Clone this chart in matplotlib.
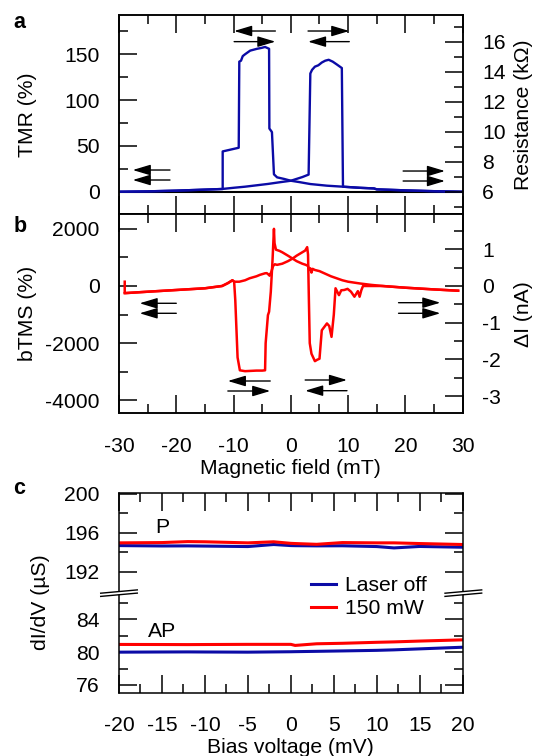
import matplotlib
matplotlib.use("Agg")
import matplotlib.pyplot as plt
from matplotlib.ticker import MultipleLocator, FixedLocator
from matplotlib.lines import Line2D
from matplotlib.patches import Polygon

# ---- panel a: TMR vs magnetic field, two sweep directions ----
field_a_down = [-30, -25, -20, -15, -11.9, -11.9, -9.1, -9.0, -8.7, -8.4, -8.0, -7.1, -5.9,
                -5.1, -4.5, -3.8, -3.75, -3.4, -3.3, -2.95, -2.4, -1.2, 0, 1.5, 3.4, 6.3,
                9.1, 12, 14.5, 15, 20, 25, 30]
tmr_a_down = [0, 0.4, 1.2, 2.3, 3.0, 44, 48, 142, 143, 148, 150, 154, 156,
              157, 158, 156, 69, 66, 65, 19, 15.7, 14, 12, 10.5, 8.4, 6.6,
              5.5, 4.3, 3.6, 2.6, 1.5, 0.6, 0]
field_a_up = [-30, -25, -20, -15, -12, -10, -8, -6, -4, -2, 0, 1, 2, 3.1, 3.4, 3.7, 4.2,
              4.8, 5.4, 6.0, 6.6, 7.3, 8.0, 8.9, 9.1, 12, 14.5, 15, 20, 25, 30]
tmr_a_up = [0, 0.4, 1.2, 2.3, 3.0, 4.3, 5.5, 7.0, 8.5, 10.3, 12, 14, 16, 18.7, 129, 133, 136.5,
            138, 141, 143, 144, 142, 139, 135, 5.5, 4.3, 3.6, 2.6, 1.5, 0.6, 0]

# ---- panel b: bTMS vs magnetic field ----
field_b_down = [-29, -25, -20, -15, -12, -11, -10.2, -9.9, -9.7, -9.3, -8.9, -8, -7, -6, -5,
                -4.5, -4.4, -4.0, -3.8, -3.5, -3.2, -2.95, -2.85, -2.6, -2.0, -1.5, -0.5, 0.3,
                1, 2, 2.6, 3.0, 3.2, 3.4, 3.6, 3.8, 4.2, 5, 6, 7, 8, 9, 10, 12, 14, 16, 20,
                25, 29.2]
btms_b_down = [-250, -200, -140, -80, 0, 100, 200, 150, -500, -2500, -2950, -2980, -2970, -2960,
               -2960, -2950, -2000, -1020, -900, -200, 900, 2000, 1500, 1270, 1230, 1180, 1060, 960,
               870, 780, 740, 700, 560, 620, 470, 600, 560, 520, 430, 340, 270, 200, 150, 90, 40,
               0, -60, -120, -165]
field_b_up = [-29, -29, -25, -20, -15, -12, -11, -10.2, -9.9, -9, -8, -7.2, -6, -5.4, -4.5,
              -4.2, -3.9, -3.7, -3.4, -3.1, -2.8, -2.4, -1.5, -0.5, 0.3, 1, 2, 2.5, 2.85, 3.0,
              3.15, 3.3, 3.6, 4.2, 4.6, 5.0, 5.4, 6.3, 6.7, 7.1, 7.5, 7.8, 8.4, 8.8, 9.3, 9.9,
              10.5, 11.1, 11.7, 12.0, 12.3, 12.6, 14, 16, 20, 25, 29.2]
btms_b_up = [150, -250, -200, -140, -80, 0, 100, 200, 150, 150, 200, 270, 340, 390, 445,
             450, 400, 360, 500, 700, 760, 740, 780, 870, 960, 1060, 1180, 1240, 1360, 1100,
             -500, -2000, -2370, -2630, -2580, -2545, -1550, -1310, -1400, -1780, -1000, -80,
             -320, -150, -140, -100, -200, -375, -180, -375, -150, 0, 0, 0, -60, -120, -165]

# ---- panel c: dI/dV vs bias voltage ----
bias = [-20, -15, -12, -10, -5, -2, 0, 0.5, 3, 6, 10, 12, 15, 20]
p_off = [194.69, 194.65, 194.66, 194.64, 194.59, 194.80, 194.69, 194.68, 194.66, 194.67,
         194.59, 194.45, 194.60, 194.52]
p_on = [194.97, 195.00, 195.10, 195.08, 194.97, 195.08, 194.92, 194.90, 194.82, 195.00,
        194.97, 194.97, 194.90, 194.80]
ap_off = [80.00, 80.02, 80.03, 80.02, 80.00, 80.03, 80.05, 80.06, 80.10, 80.15, 80.22,
          80.28, 80.40, 80.60]
ap_on = [80.94, 80.93, 80.92, 80.93, 80.95, 80.95, 80.95, 80.82, 81.02, 81.08, 81.20,
         81.25, 81.35, 81.50]

BLUE = "#0b0ba6"
RED = "#ff0000"
FS = 15.2

plt.rcParams['font.family'] = ['Liberation Sans', 'DejaVu Sans']
plt.rcParams['font.size'] = FS
plt.rcParams['axes.unicode_minus'] = False
plt.rcParams['axes.linewidth'] = 1.1

W, H = 540, 756
fig = plt.figure(figsize=(W / 100, H / 100), dpi=100)


def box(left, top, right, bottom):
    # pixel box -> figure fraction rect
    return [left / W, 1 - bottom / H, (right - left) / W, (bottom - top) / H]


def ticks(ax, **kw):
    ax.tick_params(which='both', direction='in', width=1.1, **kw)
    ax.tick_params(which='major', length=13, pad=14)
    ax.tick_params(which='minor', length=6.5)
    ax.tick_params(axis='x', which='major', pad=17)


def arrow(ax, x_tail, x_head, y):
    ax.annotate('', xy=(x_head, y), xytext=(x_tail, y),
                arrowprops=dict(arrowstyle='-|>,head_length=0.6,head_width=0.18',
                                mutation_scale=18, lw=1.0, color='k',
                                shrinkA=0, shrinkB=0))


L, R = 119, 462.7

# panel a
ax_a = fig.add_axes(box(L, 14.7, R, 214))
ax_a.axhline(0, color='k', lw=1.5, zorder=1)
ax_a.plot(field_a_down, tmr_a_down, color=BLUE, lw=1.7, zorder=2)
ax_a.plot(field_a_up, tmr_a_up, color=BLUE, lw=1.7, zorder=2)
ax_a.set_xlim(-30, 30)
ax_a.set_ylim(-24.3, 193.2)
ax_a.xaxis.set_major_locator(MultipleLocator(10))
ax_a.xaxis.set_minor_locator(MultipleLocator(5))
ax_a.yaxis.set_major_locator(FixedLocator([0, 50, 100, 150]))
ax_a.yaxis.set_minor_locator(FixedLocator([25, 75, 125, 175]))
ticks(ax_a, top=True, bottom=True, left=True, right=False, labelbottom=False)
ax_a.set_ylabel('TMR (%)')
ax_a.yaxis.set_label_coords(-0.24, 0.5)

ax_a2 = ax_a.twinx()
ax_a2.set_ylim(6 - 24.3 * 0.06107, 6 + 193.2 * 0.06107)
ax_a2.yaxis.set_major_locator(MultipleLocator(2))
ax_a2.yaxis.set_minor_locator(MultipleLocator(1))
ticks(ax_a2, top=False, bottom=False, left=False, right=True)
ax_a2.set_ylabel('Resistance (kΩ)')
ax_a2.yaxis.set_label_coords(1.148, 0.5)

for xt, xh, y in [(-2.7, -9.9, 175.4), (-9.9, -2.7, 163.8), (3.0, 10.2, 175.4),
                  (10.2, 3.0, 163.8), (-21.1, -27.6, 23.7), (-21.1, -27.6, 12.8),
                  (19.6, 26.9, 22.6), (19.6, 26.9, 11.7)]:
    arrow(ax_a, xt, xh, y)

# panel b
ax_b = fig.add_axes(box(L, 214, R, 413.3))
ax_b.plot(field_b_down, btms_b_down, color=RED, lw=1.8)
ax_b.plot(field_b_up, btms_b_up, color=RED, lw=1.8)
ax_b.set_xlim(-30, 30)
ax_b.set_ylim(-4454, 2519)
ax_b.xaxis.set_major_locator(MultipleLocator(10))
ax_b.xaxis.set_minor_locator(MultipleLocator(5))
ax_b.yaxis.set_major_locator(MultipleLocator(2000))
ax_b.yaxis.set_minor_locator(MultipleLocator(1000))
ticks(ax_b, top=True, bottom=True, left=True, right=False)
ax_b.set_ylabel('bTMS (%)')
ax_b.yaxis.set_label_coords(-0.24, 0.5)
ax_b.set_xlabel('Magnetic field (mT)')
ax_b.xaxis.label.set_va('center')
ax_b.xaxis.set_label_coords(0.5, -0.275)

ax_b2 = ax_b.twinx()
ax_b2.set_ylim(-4454 / 1283, 2519 / 1283)
ax_b2.yaxis.set_major_locator(MultipleLocator(1))
ax_b2.yaxis.set_minor_locator(MultipleLocator(0.5))
ticks(ax_b2, top=False, bottom=False, left=False, right=True)
ax_b2.set_ylabel('ΔI (nA)')
ax_b2.yaxis.set_label_coords(1.148, 0.5)

for xt, xh, y in [(-3.6, -11.0, -3324), (-11.0, -3.6, -3674), (2.5, 9.8, -3289),
                  (9.8, 2.5, -3663), (-20.0, -26.4, -605), (-20.0, -26.4, -955),
                  (18.8, 26.1, -584), (18.8, 26.1, -955)]:
    arrow(ax_b, xt, xh, y)

# panel c, broken y axis
BRK = 593.3
ax_cu = fig.add_axes(box(L, 493.3, R, BRK))
ax_cl = fig.add_axes(box(L, BRK, R, 692.7))
for ax in (ax_cu, ax_cl):
    ax.plot(bias, p_off if ax is ax_cu else ap_off, color=BLUE, lw=2.2)
    ax.plot(bias, p_on if ax is ax_cu else ap_on, color=RED, lw=2.2)
    ax.set_xlim(-20, 20)
    ax.xaxis.set_major_locator(MultipleLocator(5))
    ax.xaxis.set_minor_locator(MultipleLocator(2.5))
ax_cu.set_ylim(189.78, 200.07)
ax_cl.set_ylim(75.06, 87.17)
ax_cu.yaxis.set_major_locator(FixedLocator([192, 196, 200]))
ax_cu.yaxis.set_minor_locator(FixedLocator([194, 198]))
ax_cl.yaxis.set_major_locator(FixedLocator([76, 80, 84]))
ax_cl.yaxis.set_minor_locator(FixedLocator([78, 82, 86]))
ax_cu.spines['bottom'].set_visible(False)
ax_cl.spines['top'].set_visible(False)
ticks(ax_cu, top=True, bottom=False, left=True, right=True, labelbottom=False)
ticks(ax_cl, top=False, bottom=True, left=True, right=True)
ax_cl.set_xlabel('Bias voltage (mV)')
ax_cl.xaxis.label.set_va('center')
ax_cl.xaxis.set_label_coords(0.5, -0.55)
ax_cu.text(-15, 196.6, 'P', ha='center', va='center')
ax_cl.text(-15, 82.5, 'AP', ha='center', va='center')
fig.text(40 / W, 1 - 602 / H, 'dI/dV (µS)', rotation=90, ha='center', va='center')

ax_cl.plot([], [], color=BLUE, lw=2.2, label='Laser off')
ax_cl.plot([], [], color=RED, lw=2.2, label='150 mW')
handles, labels = ax_cl.get_legend_handles_labels()
ax_cl.legend(handles[-2:], labels[-2:], loc='center left',
             bbox_to_anchor=(311 / W, 1 - 597 / H), bbox_transform=fig.transFigure,
             frameon=False, borderpad=0, borderaxespad=0, handlelength=1.2,
             handletextpad=0.4, labelspacing=0.2)

# break marks
for x0, x1 in [(100.7, 137.3), (445, 481.7)]:
    fig.add_artist(Polygon([(x / W, 1 - y / H) for x, y in
                            [(x0, BRK + 3.0), (x1, BRK - 0.3), (x1, BRK - 3.3), (x0, BRK + 0.0)]],
                           closed=True, facecolor='white', edgecolor='none',
                           transform=fig.transFigure, zorder=5))
    for dy in (-1.6, 1.6):
        fig.add_artist(Line2D([x0 / W, x1 / W],
                              [1 - (BRK + 1.5 + dy) / H, 1 - (BRK - 1.8 + dy) / H],
                              color='k', lw=1.0, transform=fig.transFigure, zorder=6))

for lab, x, y in [('a', 19, 22), ('b', 20, 226), ('c', 19, 489)]:
    fig.text(x / W, 1 - y / H, lab, weight='bold', ha='center', va='center', fontsize=15.5)

fig.savefig('out.png', dpi=100)
